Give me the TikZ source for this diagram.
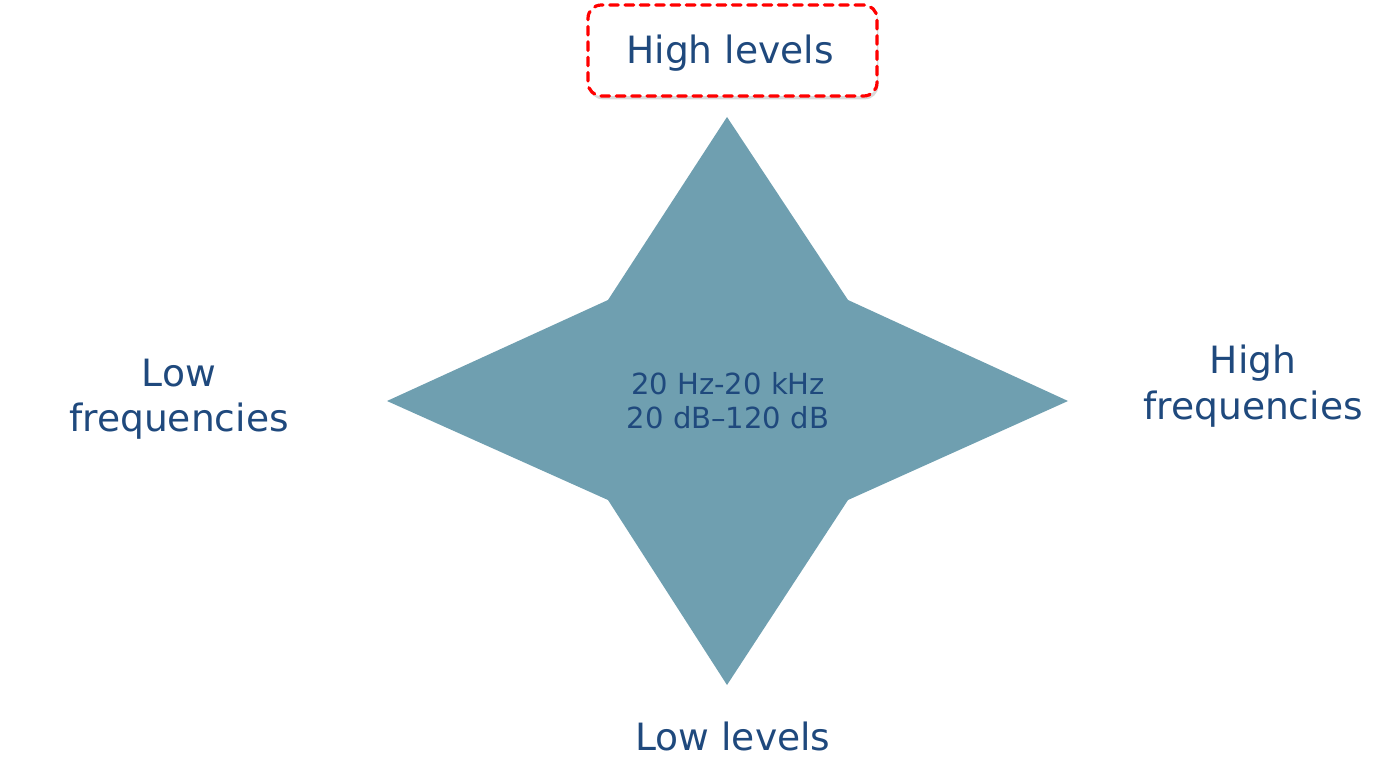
\documentclass[tikz,border=0pt]{standalone}
\usepackage{fontspec}
\setmainfont{DejaVu Sans}
\usetikzlibrary{shadows}
\definecolor{txtblue}{HTML}{1F497D}
\definecolor{starfill}{HTML}{6F9FB0}
\definecolor{boxred}{HTML}{FF0000}
\tikzset{
  lbl/.style={text=txtblue, font=\fontsize{28.2}{34}\selectfont, align=center, inner sep=0pt},
  midlbl/.style={text=txtblue, font=\fontsize{21.8}{25.5}\selectfont, align=center, inner sep=0pt},
  hibox/.style={draw=boxred, line width=2.4pt, line cap=round, dash pattern=on 6.5pt off 5pt,
    rounded corners=10pt, fill=white,
    minimum width=216.75pt, minimum height=68.25pt,
    drop shadow={shadow xshift=1pt, shadow yshift=-2.5pt, opacity=0.3, fill=gray}}
}
\begin{document}
\begin{tikzpicture}[x=0.75pt, y=-0.75pt]
\useasboundingbox (0,0) rectangle (1387,780);
% star
\fill[starfill] (727,117) -- (848,300) -- (1068,401) -- (848,500) -- (727,685) -- (608,500) -- (387,401) -- (608,300) -- cycle;
\node[midlbl] (center) at (728,401) {20 Hz-20 kHz\\20 dB–120 dB};
% top box
\node[hibox] (topbox) at (732.5,50.5) {};
\node[lbl] (high) at (730,53) {High levels};
\node[lbl] (low) at (733,736) {Low levels};
\node[lbl] (lowf) at (179,399) {Low\\frequencies};
\node[lbl] (highf) at (1253,386) {High\\frequencies};
\end{tikzpicture}
\end{document}
